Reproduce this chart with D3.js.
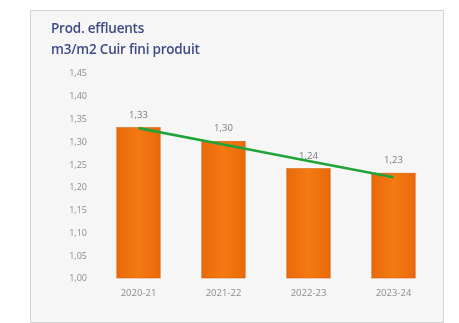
<!DOCTYPE html>
<html><head><meta charset="utf-8">
<script src="https://cdn.jsdelivr.net/npm/d3@7"></script>
<style>
html,body{margin:0;padding:0;background:#fff;}
svg{display:block;filter:blur(0.5px);}
</style></head>
<body>
<script>
const titleLines = ["Prod. effluents", "m3/m2 Cuir fini produit"];
const categories = ["2020-21", "2021-22", "2022-23", "2023-24"];
const values = [1.33, 1.30, 1.24, 1.23];
const valueLabels = ["1,33", "1,30", "1,24", "1,23"];
const yTicks = [1.00, 1.05, 1.10, 1.15, 1.20, 1.25, 1.30, 1.35, 1.40, 1.45];

const W = 459, H = 323;
const svg = d3.select("body").append("svg").attr("width", W).attr("height", H);

// frame
svg.append("rect").attr("x", 30.5).attr("y", 10.5).attr("width", 413).attr("height", 312)
  .attr("fill", "#f6f6f6").attr("stroke", "#d4d4d4");

const plot = {left: 96, right: 436, top: 73, bottom: 278};
const x = d3.scaleBand().domain(categories).range([plot.left, plot.right]).paddingInner(0.49).paddingOuter(0.245);
const y = d3.scaleLinear().domain([1.00, 1.45]).range([plot.bottom, plot.top]);

const defs = svg.append("defs");
const grad = defs.append("linearGradient").attr("id", "barg").attr("x1", 0).attr("x2", 1).attr("y1", 0).attr("y2", 0);
grad.append("stop").attr("offset", "0%").attr("stop-color", "#e8690a");
grad.append("stop").attr("offset", "50%").attr("stop-color", "#f57a12");
grad.append("stop").attr("offset", "100%").attr("stop-color", "#e8690a");

// title
const t = svg.append("text").attr("x", 51).attr("y", 33)
  .attr("font-family", "Open Sans, sans-serif").attr("font-size", 13.5).attr("font-weight", 600)
  .attr("letter-spacing", -0.2)
  .attr("fill", "#3f4a86");
titleLines.forEach((s, i) => t.append("tspan").attr("x", 51).attr("dy", i ? 21 : 0).text(s));

// y axis
const yAxis = d3.axisLeft(y).tickValues(yTicks).tickSize(0).tickPadding(0)
  .tickFormat(d => d3.format(".2f")(d).replace(".", ","));
const ya = svg.append("g").attr("transform", `translate(87,0)`).call(yAxis);
ya.select(".domain").remove();
ya.selectAll("text").attr("font-family", "Open Sans, sans-serif").attr("font-size", 9).attr("fill", "#8c8c8c");

// bars
svg.append("g").selectAll("rect").data(values).join("rect")
  .attr("x", (d, i) => x(categories[i]))
  .attr("y", d => y(d))
  .attr("width", x.bandwidth())
  .attr("height", d => y(1.00) - y(d))
  .attr("fill", "url(#barg)")
  .attr("stroke", "#d65f08").attr("stroke-width", 0.6);

// value labels
svg.append("g").selectAll("text").data(values).join("text")
  .attr("x", (d, i) => x(categories[i]) + x.bandwidth() / 2)
  .attr("y", d => y(d) - 10)
  .attr("text-anchor", "middle")
  .attr("font-family", "Open Sans, sans-serif").attr("font-size", 9.5).attr("fill", "#7a7a7a")
  .text((d, i) => valueLabels[i]);

// linear trend line (least squares, as in the source chart)
const n = values.length;
const xs = d3.range(n);
const mx = d3.mean(xs), my = d3.mean(values);
const slope = d3.sum(xs, i => (i - mx) * (values[i] - my)) / d3.sum(xs, i => (i - mx) ** 2);
const icpt = my - slope * mx;
const trend = xs.map(i => icpt + slope * i);
svg.append("path")
  .datum(trend)
  .attr("fill", "none").attr("stroke", "#1fa33a").attr("stroke-width", 2.6)
  .attr("d", d3.line().x((d, i) => x(categories[i]) + x.bandwidth() / 2).y(d => y(d)));

// x axis
const xAxis = d3.axisBottom(x).tickSize(0).tickPadding(0);
const xa = svg.append("g").attr("transform", `translate(0,${plot.bottom + 11})`).call(xAxis);
xa.select(".domain").remove();
xa.selectAll("text").attr("font-family", "Open Sans, sans-serif").attr("font-size", 9.5).attr("fill", "#8c8c8c");
</script>
</body></html>
